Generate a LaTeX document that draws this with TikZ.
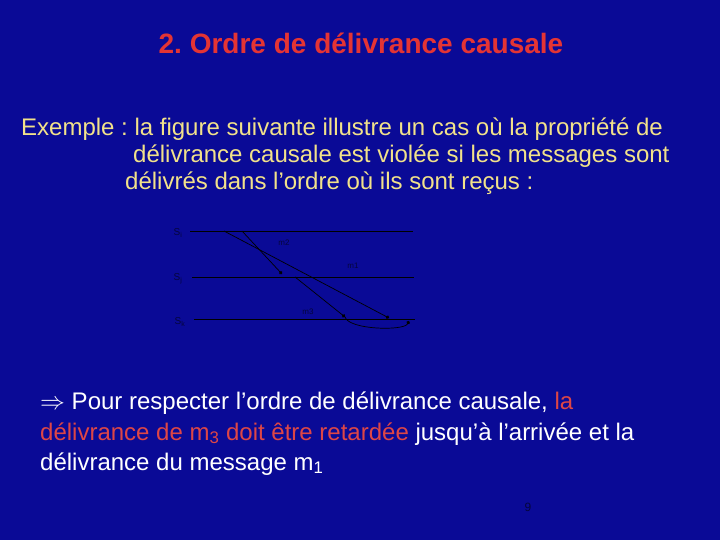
\documentclass[tikz,border=0pt]{standalone}
\usepackage{fontspec}
\setmainfont{Liberation Sans}
\usetikzlibrary{arrows.meta}
\definecolor{slideblue}{RGB}{10,10,150}
\definecolor{titlered}{RGB}{228,52,52}
\definecolor{textyellow}{RGB}{242,226,138}
\definecolor{hilite}{RGB}{222,70,70}
\definecolor{inkdark}{RGB}{5,5,60}
\frenchspacing

\begin{document}
\begin{tikzpicture}[x=1pt,y=-1pt]
	\tikzset{every node/.append style={inner sep=0pt}}
	\tikzset{body/.style={anchor=base west,font=\fontsize{24}{27}\selectfont}}
	\tikzset{proc/.style={draw=black,line width=0.7pt}}
	\tikzset{msg/.style={draw=black,line width=0.7pt,-{Circle[length=3.5pt]}}}
	\tikzset{tag/.style={text=inkdark,font=\fontsize{8}{9}\selectfont}}
	\fill [slideblue] (0,0) rectangle (720,540);
	\useasboundingbox (0,0) rectangle (720,540);
	% titre
	\node (titre) [text=titlered,font=\bfseries\fontsize{28}{30}\selectfont] at (361,43) {2. Ordre de délivrance causale};
	% texte
	\node (ex1) [body,text=textyellow] at (21,136) {Exemple : la figure suivante illustre un cas où la propriété de};
	\node (ex2) [body,text=textyellow] at (133,163) {délivrance causale est violée si les messages sont};
	\node (ex3) [body,text=textyellow] at (125,190) {délivrés dans l’ordre où ils sont reçus :};
	% processus
	\coordinate (iA) at (190,231);
	\coordinate (iB) at (413,231);
	\coordinate (jA) at (192,277);
	\coordinate (jB) at (414,277);
	\coordinate (kA) at (194,319);
	\coordinate (kB) at (415,319);
	\draw [proc] (iA) -- (iB);
	\draw [proc] (jA) -- (jB);
	\draw [proc] (kA) -- (kB);
	\node (Si) [tag,font=\fontsize{10}{11}\selectfont] at (178,233) {S\textsubscript{i}};
	\node (Sj) [tag,font=\fontsize{10}{11}\selectfont] at (178,279) {S\textsubscript{j}};
	\node (Sk) [tag,font=\fontsize{10}{11}\selectfont] at (180,322) {S\textsubscript{k}};
	% messages
	\coordinate (m1s) at (224,231);
	\coordinate (m1r) at (389,318);
	\coordinate (m2s) at (242,231);
	\coordinate (m2r) at (282,274);
	\coordinate (m3s) at (295,277);
	\coordinate (m3r) at (345,317);
	\coordinate (m3d) at (409,321);
	\draw [msg] (m1s) -- (m1r);
	\draw [msg] (m2s) -- (m2r);
	\draw [msg] (m3s) -- (m3r);
	\draw [msg] (m3r) .. controls (349,330) and (404,331) .. (m3d);
	\node (l2) [tag] at (284,243) {m2};
	\node (l1) [tag] at (353,266) {m1};
	\node (l3) [tag] at (308,312) {m3};
	% conclusion
	\node (c1) [body,text=white,font=\fontsize{24}{27}\selectfont] at (40,409) {$\Rightarrow$ Pour respecter l’ordre de délivrance causale, \textcolor{hilite}{la}};
	\node (c2) [body,text=white,font=\fontsize{24}{27}\selectfont] at (40,440) {\textcolor{hilite}{délivrance de m\textsubscript{3} doit être retardée} jusqu’à l’arrivée et la};
	\node (c3) [body,text=white,font=\fontsize{24}{27}\selectfont] at (40,470) {délivrance du message m\textsubscript{1}};
	\node (num) [text=inkdark,font=\fontsize{12}{14}\selectfont] at (528,507) {9};
\end{tikzpicture}
\end{document}
